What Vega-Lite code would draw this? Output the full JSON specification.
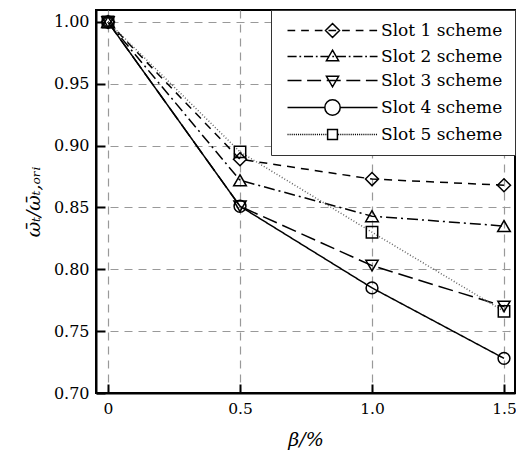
{
  "$schema": "https://vega.github.io/schema/vega-lite/v6.json",
  "width": 419,
  "height": 383,
  "autosize": {"type": "none"},
  "padding": {"left": 96, "top": 10, "right": 1, "bottom": 63},
  "background": "white",
  "config": {
    "view": {"stroke": "black", "strokeWidth": 2},
    "font": "DejaVu Serif",
    "axis": {
      "labelFont": "DejaVu Serif",
      "labelFontSize": 16,
      "labelColor": "black",
      "titleFont": "DejaVu Serif",
      "titleColor": "black",
      "titleFontWeight": "normal",
      "domainColor": "black",
      "domainWidth": 2,
      "tickColor": "black",
      "tickWidth": 2,
      "tickSize": -9,
      "labelPadding": 16,
      "gridColor": "#999999",
      "gridDash": [8, 6],
      "gridWidth": 1.2
    }
  },
  "data": {
    "values": [
      {"x": 0, "y": 1.0, "series": "Slot 1 scheme"},
      {"x": 0.5, "y": 0.889, "series": "Slot 1 scheme"},
      {"x": 1.0, "y": 0.873, "series": "Slot 1 scheme"},
      {"x": 1.5, "y": 0.868, "series": "Slot 1 scheme"},
      {"x": 0, "y": 1.0, "series": "Slot 2 scheme"},
      {"x": 0.5, "y": 0.872, "series": "Slot 2 scheme"},
      {"x": 1.0, "y": 0.843, "series": "Slot 2 scheme"},
      {"x": 1.5, "y": 0.835, "series": "Slot 2 scheme"},
      {"x": 0, "y": 1.0, "series": "Slot 3 scheme"},
      {"x": 0.5, "y": 0.851, "series": "Slot 3 scheme"},
      {"x": 1.0, "y": 0.803, "series": "Slot 3 scheme"},
      {"x": 1.5, "y": 0.770, "series": "Slot 3 scheme"},
      {"x": 0, "y": 1.0, "series": "Slot 4 scheme"},
      {"x": 0.5, "y": 0.851, "series": "Slot 4 scheme"},
      {"x": 1.0, "y": 0.785, "series": "Slot 4 scheme"},
      {"x": 1.5, "y": 0.728, "series": "Slot 4 scheme"},
      {"x": 0, "y": 1.0, "series": "Slot 5 scheme"},
      {"x": 0.5, "y": 0.895, "series": "Slot 5 scheme"},
      {"x": 1.0, "y": 0.830, "series": "Slot 5 scheme"},
      {"x": 1.5, "y": 0.766, "series": "Slot 5 scheme"}
    ]
  },
  "encoding": {
    "x": {
      "field": "x",
      "type": "quantitative",
      "scale": {"domain": [-0.0455, 1.5417], "nice": false, "zero": false},
      "axis": {
        "values": [0, 0.5, 1.0, 1.5],
        "labelExpr": "datum.value === 0 ? '0' : format(datum.value, '.1f')",
        "labelFontSize": 15.5,
        "title": "β/%",
        "titleFontSize": 19,
        "titleFontStyle": "italic",
        "titlePadding": 14,
        "labelPadding": 17
      }
    },
    "y": {
      "field": "y",
      "type": "quantitative",
      "scale": {"domain": [0.70, 1.0097], "nice": false, "zero": false},
      "axis": {
        "values": [0.70, 0.75, 0.80, 0.85, 0.90, 0.95, 1.00],
        "format": ".2f",
        "title": "ω̄ₜ/ω̄ₜ,ₒᵣᵢ",
        "titleFontSize": 19,
        "titleFontStyle": "italic",
        "titlePadding": 10
      }
    }
  },
  "layer": [
    {
      "mark": {"type": "line", "clip": true},
      "encoding": {
        "detail": {"field": "series"},
        "strokeDash": {
          "field": "series",
          "scale": {
            "domain": ["Slot 1 scheme", "Slot 2 scheme", "Slot 3 scheme", "Slot 4 scheme", "Slot 5 scheme"],
            "range": [[8, 6], [11, 4, 2, 4], [15, 6], [1, 0], [1, 2]]
          },
          "legend": null
        },
        "color": {
          "field": "series",
          "scale": {
            "domain": ["Slot 1 scheme", "Slot 2 scheme", "Slot 3 scheme", "Slot 4 scheme", "Slot 5 scheme"],
            "range": ["#000000", "#000000", "#000000", "#000000", "#666666"]
          },
          "legend": null
        },
        "strokeWidth": {
          "field": "series",
          "scale": {
            "domain": ["Slot 1 scheme", "Slot 2 scheme", "Slot 3 scheme", "Slot 4 scheme", "Slot 5 scheme"],
            "range": [1.5, 1.5, 1.5, 1.5, 1]
          },
          "legend": null
        }
      }
    },
    {
      "mark": {"type": "point", "filled": false, "stroke": "black", "strokeWidth": 1.5, "opacity": 1},
      "encoding": {
        "shape": {
          "field": "series",
          "scale": {
            "domain": ["Slot 1 scheme", "Slot 2 scheme", "Slot 3 scheme", "Slot 4 scheme", "Slot 5 scheme"],
            "range": ["diamond", "triangle-up", "triangle-down", "circle", "square"]
          },
          "legend": null
        },
        "size": {
          "field": "series",
          "scale": {
            "domain": ["Slot 1 scheme", "Slot 2 scheme", "Slot 3 scheme", "Slot 4 scheme", "Slot 5 scheme"],
            "range": [170, 130, 130, 220, 120]
          },
          "legend": null
        }
      }
    },
    {
      "mark": {"type": "point", "filled": false, "opacity": 0, "size": 196, "stroke": "black", "strokeWidth": 1.5},
      "encoding": {
        "shape": {
          "field": "series",
          "scale": {
            "domain": ["Slot 1 scheme", "Slot 2 scheme", "Slot 3 scheme", "Slot 4 scheme", "Slot 5 scheme"],
            "range": [
              "M-0.57,0H0.53M1.38,0H2.48M3.33,0H4.43M5.28,0H6.38M7.23,0H8.33M9.18,0H10.28M11.13,0H12.23M5.86,-1L6.86,0L5.86,1L4.86,0Z",
              "M-0.57,0H0.73M1.13,0H1.38M1.78,0H3.08M3.48,0H3.73M4.13,0H5.43M5.83,0H6.08M6.48,0H7.78M8.18,0H8.43M8.83,0H10.13M10.53,0H10.78M11.18,0H12.29M5.86,-0.9L6.73,0.6L4.99,0.6Z",
              "M-0.57,0H1.43M2.23,0H4.23M5.03,0H7.03M7.83,0H9.83M10.63,0H12.29M4.99,-0.6L6.73,-0.6L5.86,0.9Z",
              "M-0.57,0H4.76M6.96,0H12.29M6.96,0A1.1,1.1 0 1,1 4.76,0A1.1,1.1 0 1,1 6.96,0Z",
              "M-0.57,0H-0.42M-0.27,0H-0.12M0.03,0H0.18M0.33,0H0.48M0.63,0H0.78M0.93,0H1.08M1.23,0H1.38M1.53,0H1.68M1.83,0H1.98M2.13,0H2.28M2.43,0H2.58M2.73,0H2.88M3.03,0H3.18M3.33,0H3.48M3.63,0H3.78M3.93,0H4.08M4.23,0H4.38M4.53,0H4.68M4.83,0H4.98M6.66,0H6.81M6.96,0H7.11M7.26,0H7.41M7.56,0H7.71M7.86,0H8.01M8.16,0H8.31M8.46,0H8.61M8.76,0H8.91M9.06,0H9.21M9.36,0H9.51M9.66,0H9.81M9.96,0H10.11M10.26,0H10.41M10.56,0H10.71M10.86,0H11.01M11.16,0H11.31M11.46,0H11.61M11.76,0H11.91M12.06,0H12.21M5.16,-0.7H6.56V0.7H5.16Z"
            ]
          },
          "legend": {
            "title": null,
            "orient": "top-right",
            "offset": 0,
            "padding": 12,
            "strokeColor": "#333333",
            "fillColor": "white",
            "labelFont": "DejaVu Serif",
            "labelFontSize": 17,
            "labelColor": "black",
            "labelOffset": 81,
            "symbolSize": 196,
            "symbolOpacity": 1,
            "symbolStrokeColor": "black",
            "symbolStrokeWidth": 1.5,
            "symbolFillColor": "transparent",
            "rowPadding": 6
          }
        }
      }
    }
  ],
  "resolve": {"scale": {"shape": "independent"}, "legend": {"shape": "independent"}}
}
